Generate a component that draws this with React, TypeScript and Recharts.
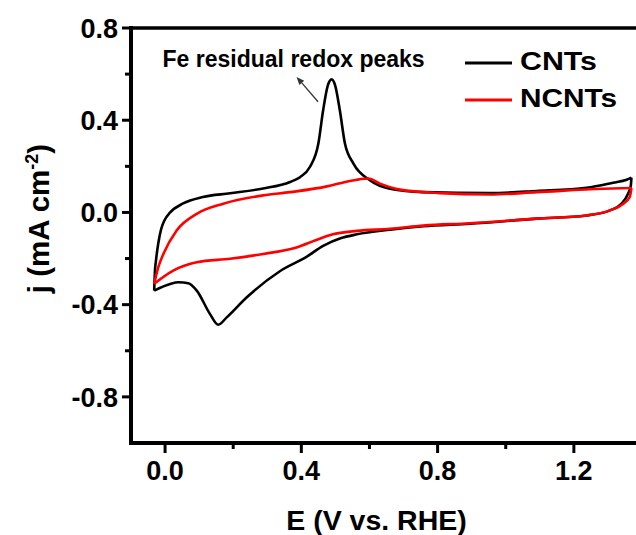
import React from "react";
import { LineChart, Line, XAxis, YAxis, ReferenceLine, Legend, Label } from "recharts";

// CNTs: anodic (upper) branch, E increasing
const cntsUpperE = [-0.032, -0.030, -0.026, -0.020, -0.012, -0.002, 0.015, 0.053, 0.111, 0.191, 0.288, 0.367, 0.396, 0.425, 0.450, 0.464, 0.478, 0.489, 0.499, 0.513, 0.528, 0.553, 0.602, 0.660, 0.758, 0.954, 1.091, 1.237, 1.315, 1.355, 1.369];
const cntsUpperJ = [-0.339, -0.262, -0.200, -0.135, -0.075, -0.035, 0.000, 0.039, 0.067, 0.083, 0.104, 0.132, 0.153, 0.197, 0.299, 0.443, 0.552, 0.577, 0.552, 0.443, 0.299, 0.212, 0.139, 0.103, 0.088, 0.084, 0.093, 0.107, 0.129, 0.142, 0.151];
// CNTs: cathodic (lower) branch, listed with E increasing
const cntsLowerE = [-0.032, 0.015, 0.040, 0.068, 0.093, 0.132, 0.156, 0.181, 0.240, 0.337, 0.416, 0.464, 0.515, 0.563, 0.660, 0.758, 0.895, 1.091, 1.237, 1.306, 1.340, 1.359, 1.367, 1.369];
const cntsLowerJ = [-0.339, -0.310, -0.303, -0.307, -0.339, -0.441, -0.487, -0.455, -0.368, -0.255, -0.192, -0.145, -0.112, -0.095, -0.075, -0.060, -0.049, -0.027, -0.013, 0.009, 0.038, 0.081, 0.115, 0.151];

// NCNTs: anodic (upper) branch
const ncntsUpperE = [-0.032, -0.020, -0.005, 0.034, 0.093, 0.171, 0.288, 0.367, 0.475, 0.514, 0.563, 0.597, 0.631, 0.690, 0.807, 0.954, 1.091, 1.286, 1.369];
const ncntsUpperJ = [-0.309, -0.238, -0.180, -0.078, -0.006, 0.038, 0.074, 0.088, 0.113, 0.127, 0.142, 0.147, 0.125, 0.099, 0.084, 0.078, 0.088, 0.103, 0.106];
// NCNTs: cathodic (lower) branch, listed with E increasing
const ncntsLowerE = [-0.032, 0.024, 0.093, 0.191, 0.288, 0.386, 0.440, 0.490, 0.563, 0.660, 0.758, 0.895, 1.091, 1.237, 1.306, 1.345, 1.364, 1.369];
const ncntsLowerJ = [-0.309, -0.252, -0.216, -0.201, -0.180, -0.152, -0.122, -0.096, -0.080, -0.071, -0.057, -0.047, -0.027, -0.013, 0.009, 0.038, 0.067, 0.106];

const xTicks = [0, 0.2, 0.4, 0.6, 0.8, 1.0, 1.2];
const yTicks = [-0.8, -0.6, -0.4, -0.2, 0, 0.2, 0.4, 0.6, 0.8];
const majorStep = 0.4;

const seriesNames = ["CNTs", "NCNTs"];
const seriesColors = ["#000000", "#ff0000"];

const annotationText = "Fe residual redox peaks";
const arrowTail = { x: 0.449, y: 0.480 };
const arrowTip = { x: 0.386, y: 0.588 };

const FONT = "'Liberation Sans', Arial, Helvetica, sans-serif";

const toRows = (es: number[], js: number[]) => es.map((e, i) => ({ E: e, j: js[i] }));
const cntsUpper = toRows(cntsUpperE, cntsUpperJ);
const cntsLower = toRows(cntsLowerE, cntsLowerJ);
const ncntsUpper = toRows(ncntsUpperE, ncntsUpperJ);
const ncntsLower = toRows(ncntsLowerE, ncntsLowerJ);

const isMajor = (v: number) => Math.abs(Math.round(v / majorStep) * majorStep - v) < 1e-6;
const fmt = (v: number) => (Math.abs(v) < 1e-9 ? "0.0" : v.toFixed(1));

const YTick = (props: any) => {
  const { x, y, payload } = props;
  const v = payload.value;
  const major = isMajor(v);
  return (
    <g>
      <line x1={x - (major ? 9 : 6)} x2={x} y1={y} y2={y} stroke="#000" strokeWidth={3} />
      {major && (
        <text x={x - 13} y={y} dy={9.7} textAnchor="end" fontFamily={FONT} fontWeight="bold" fontSize={27} fill="#000">
          {fmt(v)}
        </text>
      )}
    </g>
  );
};

const XTick = (props: any) => {
  const { x, y, payload } = props;
  const v = payload.value;
  const major = isMajor(v);
  return (
    <g>
      <line x1={x} x2={x} y1={y} y2={y + (major ? 10 : 6)} stroke="#000" strokeWidth={3} />
      {major && (
        <text x={x} y={y + 37} textAnchor="middle" fontFamily={FONT} fontWeight="bold" fontSize={27} fill="#000">
          {fmt(v)}
        </text>
      )}
    </g>
  );
};

const ArrowShape = (props: any) => {
  const { x1, y1, x2, y2 } = props;
  if ([x1, y1, x2, y2].some((n) => typeof n !== "number" || isNaN(n))) return null;
  const dx = x2 - x1;
  const dy = y2 - y1;
  const len = Math.sqrt(dx * dx + dy * dy) || 1;
  const ux = dx / len;
  const uy = dy / len;
  const hl = 8;
  const hw = 3.2;
  const bx = x2 - ux * hl;
  const by = y2 - uy * hl;
  const pts = `${x2},${y2} ${bx - uy * hw},${by + ux * hw} ${bx + uy * hw},${by - ux * hw}`;
  return (
    <g>
      <line x1={x1} y1={y1} x2={bx} y2={by} stroke="#333" strokeWidth={1.3} />
      <polygon points={pts} fill="#333" />
      <text x={x2 - 134} y={y2 - 10} fontFamily={FONT} fontWeight="bold" fontSize={23} fill="#000">
        {annotationText}
      </text>
    </g>
  );
};

const legendTextWidths = [77, 97];

const LegendContent = () => (
  <svg width={170} height={80} style={{ display: "block", overflow: "visible" }}>
    {seriesNames.map((name, i) => (
      <g key={name}>
        <line x1={0} x2={47} y1={23 + i * 37} y2={23 + i * 37} stroke={seriesColors[i]} strokeWidth={3.2} />
        <text
          x={55}
          y={29.5 + i * 37.4}
          fontFamily={FONT}
          fontWeight="bold"
          fontSize={26}
          fill="#000"
          textLength={legendTextWidths[i]}
          lengthAdjust="spacingAndGlyphs"
        >
          {name}
        </text>
      </g>
    ))}
  </svg>
);

const XTitle = (props: any) => {
  const vb = props.viewBox || {};
  return (
    <text x={vb.x + vb.width / 2 - 10} y={vb.y + 87} textAnchor="middle" fontFamily={FONT} fontWeight="bold" fontSize={28.5} fill="#000">
      E (V vs. RHE)
    </text>
  );
};

const YTitle = (props: any) => {
  const vb = props.viewBox || {};
  const cx = vb.x + 17.5;
  const cy = vb.y + vb.height / 2 - 17;
  return (
    <text x={cx} y={cy} transform={`rotate(-90, ${cx}, ${cy})`} textAnchor="middle" fontFamily={FONT} fontWeight="bold" fontSize={29.5} fill="#000">
      j (mA cm
      <tspan dy={-11} fontSize={18}>-2</tspan>
      <tspan dy={11}>)</tspan>
    </text>
  );
};

export default function App() {
  return (
    <div style={{ position: "absolute", left: 0, top: 0, width: 636, height: 535, overflow: "hidden", background: "#fff" }}>
      <LineChart width={650} height={535} margin={{ top: 28, right: 8, bottom: 32, left: 31 }}>
        <XAxis
          dataKey="E"
          type="number"
          domain={[-0.1, 1.4]}
          ticks={xTicks}
          interval={0}
          allowDataOverflow
          height={60}
          tickSize={0}
          tickMargin={0}
          tickLine={false}
          tick={<XTick />}
          axisLine={{ stroke: "#000", strokeWidth: 4, strokeLinecap: "square" }}
        >
          <Label content={<XTitle />} />
        </XAxis>
        <YAxis
          type="number"
          domain={[-1.0, 0.8]}
          ticks={yTicks}
          interval={0}
          allowDataOverflow
          width={100}
          tickSize={0}
          tickMargin={0}
          tickLine={false}
          tick={<YTick />}
          axisLine={{ stroke: "#000", strokeWidth: 4, strokeLinecap: "square" }}
        >
          <Label content={<YTitle />} />
        </YAxis>
        <ReferenceLine y={0.8} stroke="#000" strokeWidth={3.5} />
        <Line data={cntsUpper} dataKey="j" type="monotone" stroke={seriesColors[0]} strokeWidth={2.6} dot={false} isAnimationActive={false} legendType="none" />
        <Line data={cntsLower} dataKey="j" type="monotone" stroke={seriesColors[0]} strokeWidth={2.6} dot={false} isAnimationActive={false} legendType="none" />
        <Line data={ncntsUpper} dataKey="j" type="monotone" stroke={seriesColors[1]} strokeWidth={2.6} dot={false} isAnimationActive={false} legendType="none" />
        <Line data={ncntsLower} dataKey="j" type="monotone" stroke={seriesColors[1]} strokeWidth={2.6} dot={false} isAnimationActive={false} legendType="none" />
        <ReferenceLine segment={[arrowTail, arrowTip]} shape={<ArrowShape />} ifOverflow="visible" />
        <Legend
          layout="vertical"
          align="center"
          verticalAlign="middle"
          content={<LegendContent />}
          wrapperStyle={{ position: "absolute", left: 465, top: 40, width: 170, height: 80 }}
        />
      </LineChart>
    </div>
  );
}
